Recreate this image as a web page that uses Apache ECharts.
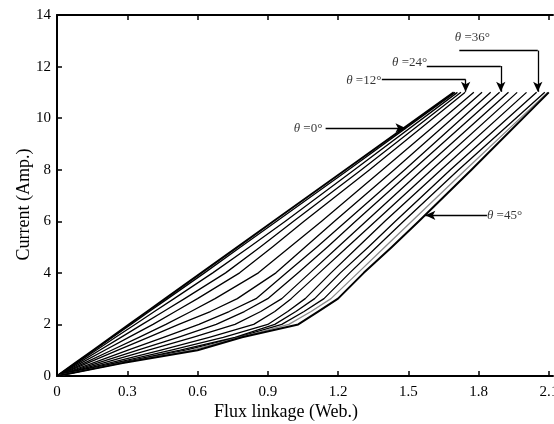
<!DOCTYPE html>
<html>
<head>
<meta charset="utf-8">
<script src="https://cdn.jsdelivr.net/npm/echarts@6/dist/echarts.min.js"></script>
<style>
html,body{margin:0;padding:0;background:#fff;}
#chart{width:554px;height:424px;}
</style>
</head>
<body>
<div id="chart"></div>
<script>
// ---- data ----
var xTicks = [0, 0.3, 0.6, 0.9, 1.2, 1.5, 1.8, 2.1];
var yTicks = [0, 2, 4, 6, 8, 10, 12, 14];
// current levels (Amp.) at which flux linkage is read for each curve
var currentLevels = [0, 0.5, 1, 1.5, 2, 2.5, 3, 4, 5, 6, 8, 11];
var angles = [0, 3, 6, 9, 12, 15, 18, 21, 24, 27, 30, 33, 36, 39, 42, 45];
var flux00 = [0, 0.077, 0.154, 0.231, 0.308, 0.385, 0.462, 0.616, 0.770, 0.924, 1.232, 1.694];
var flux03 = [0, 0.079, 0.158, 0.237, 0.316, 0.394, 0.473, 0.630, 0.784, 0.938, 1.245, 1.700];
var flux06 = [0, 0.083, 0.167, 0.250, 0.333, 0.416, 0.500, 0.665, 0.822, 0.975, 1.270, 1.710];
var flux09 = [0, 0.091, 0.182, 0.273, 0.364, 0.455, 0.545, 0.720, 0.868, 1.010, 1.300, 1.725];
var flux12 = [0, 0.102, 0.204, 0.306, 0.410, 0.505, 0.600, 0.780, 0.920, 1.055, 1.335, 1.743];
var flux15 = [0, 0.116, 0.233, 0.350, 0.465, 0.572, 0.675, 0.860, 0.995, 1.130, 1.390, 1.780];
var flux18 = [0, 0.130, 0.260, 0.390, 0.520, 0.655, 0.770, 0.935, 1.060, 1.185, 1.440, 1.815];
var flux21 = [0, 0.152, 0.303, 0.455, 0.606, 0.735, 0.850, 0.980, 1.110, 1.235, 1.485, 1.852];
var flux24 = [0, 0.172, 0.345, 0.517, 0.680, 0.800, 0.900, 1.030, 1.155, 1.275, 1.520, 1.890];
var flux27 = [0, 0.196, 0.390, 0.580, 0.760, 0.870, 0.960, 1.080, 1.200, 1.320, 1.560, 1.928];
var flux30 = [0, 0.222, 0.444, 0.650, 0.840, 0.930, 1.000, 1.120, 1.240, 1.360, 1.600, 1.965];
var flux33 = [0, 0.244, 0.488, 0.710, 0.900, 0.985, 1.060, 1.170, 1.285, 1.400, 1.640, 2.005];
var flux36 = [0, 0.263, 0.526, 0.760, 0.930, 1.020, 1.100, 1.210, 1.330, 1.445, 1.680, 2.048];
var flux39 = [0, 0.270, 0.550, 0.770, 0.960, 1.055, 1.140, 1.250, 1.365, 1.480, 1.715, 2.083];
var flux42 = [0, 0.275, 0.575, 0.780, 0.990, 1.085, 1.170, 1.285, 1.400, 1.515, 1.745, 2.095];
var flux45 = [0, 0.280, 0.600, 0.790, 1.030, 1.115, 1.200, 1.310, 1.430, 1.545, 1.770, 2.100];
var fluxCurves = [flux00, flux03, flux06, flux09, flux12, flux15, flux18, flux21,
                  flux24, flux27, flux30, flux33, flux36, flux39, flux42, flux45];

// annotation labels: text, text centre, arrow path (last point = arrow tip)
var annTexts = ['0', '12', '24', '36', '45'];
var annTextPos = [[1.072, 9.61], [1.310, 11.46], [1.506, 12.17], [1.774, 13.14], [1.911, 6.23]];
var annPaths = [
  [[1.147, 9.62], [1.488, 9.62]],
  [[1.387, 11.50], [1.745, 11.50], [1.745, 11.02]],
  [[1.579, 12.02], [1.895, 12.02], [1.895, 11.02]],
  [[1.718, 12.62], [2.053, 12.62], [2.053, 11.02]],
  [[1.836, 6.23], [1.573, 6.23]]
];

// ---- build ----
var FONT = 'Liberation Serif';
var series = [];
fluxCurves.forEach(function (fx, k) {
  var pts = fx.map(function (x, i) { return [x, currentLevels[i]]; });
  var ang = angles[k];
  var edge = (ang === 0 || ang === 45);
  series.push({
    type: 'line', name: 'theta ' + ang, data: pts, showSymbol: false, symbol: 'none',
    smooth: false, silent: true, animation: false, z: 3,
    lineStyle: { color: ang === 42 ? '#8a8a8a' : '#000', width: edge ? 2 : 1.3, join: 'round' }
  });
});

var mlData = [];
annPaths.forEach(function (p) {
  for (var i = 0; i < p.length - 1; i++) {
    var last = (i === p.length - 2);
    mlData.push([{ coord: p[i], symbol: 'none' }, { coord: p[i + 1], symbol: last ? 'arrow' : 'none' }]);
  }
});

series.push({
  type: 'scatter', name: 'ann', silent: true, animation: false, z: 5,
  symbol: 'circle', symbolSize: 1, itemStyle: { color: 'rgba(0,0,0,0)' },
  data: annTextPos.map(function (p, i) { return { value: p, name: annTexts[i] }; }),
  label: {
    show: true, position: 'inside', color: '#000',
    fontFamily: FONT, fontSize: 13,
    formatter: function (d) { return '{i|\u03b8} =' + d.name + '\u00b0'; },
    rich: { i: { fontFamily: FONT, fontStyle: 'italic', fontSize: 13, color: '#000' } }
  },
  markLine: {
    silent: true, animation: false, symbolSize: [7, 10], precision: 4,
    label: { show: false }, emphasis: { disabled: true },
    lineStyle: { color: '#000', width: 1.3, type: 'solid' },
    data: mlData
  }
});

var chart = echarts.init(document.getElementById('chart'), null, { renderer: 'canvas' });
var axisLine = { show: true, onZero: false, lineStyle: { color: '#000', width: 2 } };
chart.setOption({
  backgroundColor: '#fff',
  animation: false,
  grid: { left: 57, right: 1, top: 15, bottom: 48, containLabel: false, outerBoundsMode: 'none' },
  xAxis: [{
    type: 'value', min: 0, max: 2.118, position: 'bottom',
    axisLine: axisLine,
    axisTick: { show: true, inside: true, length: 5, lineStyle: { color: '#000', width: 1.5 }, customValues: xTicks },
    axisLabel: { show: true, customValues: xTicks, margin: 9, color: '#000', fontFamily: FONT, fontSize: 15,
                 hideOverlap: false, formatter: function (v) { return String(v); } },
    splitLine: { show: false },
    name: 'Flux linkage (Web.)', nameLocation: 'middle', nameGap: 27, nameMoveOverlap: false,
    nameTextStyle: { color: '#000', fontFamily: FONT, fontSize: 18, padding: [0, 38, 0, 0] }
  }, {
    type: 'value', min: 0, max: 2.118, position: 'top',
    axisLine: axisLine,
    axisTick: { show: true, inside: true, length: 5, lineStyle: { color: '#000', width: 1.5 }, customValues: xTicks },
    axisLabel: { show: false }, splitLine: { show: false }
  }],
  yAxis: [{
    type: 'value', min: 0, max: 14, interval: 2, position: 'left',
    axisLine: axisLine,
    axisTick: { show: true, inside: true, length: 5, lineStyle: { color: '#000', width: 1.5 } },
    axisLabel: { show: true, margin: 6, color: '#000', fontFamily: FONT, fontSize: 15 },
    splitLine: { show: false },
    name: 'Current (Amp.)', nameLocation: 'middle', nameGap: 24, nameMoveOverlap: false,
    nameTextStyle: { color: '#000', fontFamily: FONT, fontSize: 18, padding: [0, 18, 0, 0] }
  }],
  series: series
});
</script>
</body>
</html>
